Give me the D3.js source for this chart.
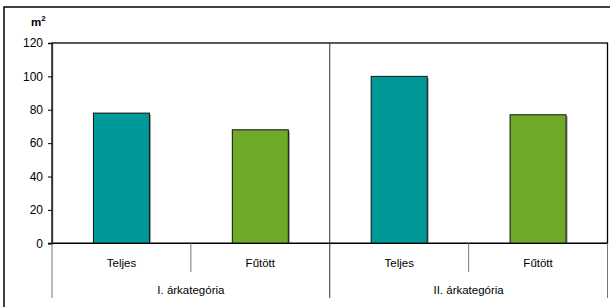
<!DOCTYPE html>
<html>
<head>
<meta charset="utf-8">
<script src="https://cdn.jsdelivr.net/npm/d3@7"></script>
<style>
  body { margin: 0; background: #fff; }
  svg { display: block; font-family: "Liberation Sans", Arial, sans-serif; }
</style>
</head>
<body>
<svg id="chart" width="610" height="307"></svg>
<script>
// values
const groups = ["I. árkategória", "II. árkategória"]
const categories = ["Teljes", "Fűtött"]
const values = [78, 68, 100, 77]
const yTicks = [0, 20, 40, 60, 80, 100, 120]
const colors = ["#009999", "#6fa928"]

const svg = d3.select("#chart")
const plotLeft = 52, plotRight = 607.5, plotTop = 43, plotBottom = 243.3

// outer frame
svg.append("rect").attr("x", 4).attr("y", 7).attr("width", 610).attr("height", 320)
    .attr("fill", "none").attr("stroke", "#000").attr("stroke-width", 1.5)

var cells = []
groups.forEach(function(g, gi) {
    categories.forEach(function(c, ci) {
        cells.push({group: g, cat: c, ci: ci, value: values[gi * 2 + ci], key: gi + "-" + ci})
    })
})

var x = d3.scaleBand().domain(cells.map(d => d.key)).range([plotLeft, plotRight]).paddingInner(0).paddingOuter(0)
var y = d3.scaleLinear().domain([0, 120]).range([plotBottom, plotTop])

// plot frame
svg.append("rect").attr("x", plotLeft).attr("y", plotTop).attr("width", plotRight - plotLeft).attr("height", plotBottom - plotTop)
    .attr("fill", "none").attr("stroke", "#000").attr("stroke-width", 1.3)

// group divider inside plot
svg.append("line").attr("x1", x("1-0")).attr("x2", x("1-0")).attr("y1", plotTop).attr("y2", plotBottom)
    .attr("stroke", "#333").attr("stroke-width", 1)

// bars, with a faint shadow like the original
var bw = 56
var bars = svg.append("g")
bars.selectAll(".shadow").data(cells).enter().append("rect")
    .attr("x", d => x(d.key) + x.bandwidth() / 2 - bw / 2 + 1.5)
    .attr("y", d => y(d.value) + 1.5)
    .attr("width", bw).attr("height", d => plotBottom - y(d.value) - 1.5)
    .attr("fill", "#999")
bars.selectAll(".bar").data(cells).enter().append("rect")
    .attr("x", d => x(d.key) + x.bandwidth() / 2 - bw / 2)
    .attr("y", d => y(d.value))
    .attr("width", bw).attr("height", d => plotBottom - y(d.value))
    .attr("fill", d => colors[d.ci])
    .attr("stroke", "#111").attr("stroke-width", 1)

// y axis
var yAxis = d3.axisLeft(y).tickValues(yTicks).tickSize(4).tickPadding(5)
var ya = svg.append("g").attr("transform", "translate(" + plotLeft + ",0)").call(yAxis)
ya.select(".domain").attr("stroke", "#333").attr("stroke-width", 1.3)
ya.selectAll("text").attr("font-size", 12).attr("fill", "#000").attr("font-family", "Liberation Sans, Arial, sans-serif")
ya.selectAll(".tick line").attr("stroke", "#000")

// baseline
svg.append("line").attr("x1", plotLeft - 4).attr("x2", plotRight).attr("y1", plotBottom).attr("y2", plotBottom)
    .attr("stroke", "#000").attr("stroke-width", 1.3)

// category axis below
var cat = svg.append("g")
cat.selectAll(".sep").data(cells.filter(d => d.ci == 1)).enter().append("line")
    .attr("x1", d => x(d.key)).attr("x2", d => x(d.key))
    .attr("y1", plotBottom).attr("y2", 272)
    .attr("stroke", "#777")
var groupEdges = [plotLeft, x("1-0"), plotRight]
cat.selectAll(".gsep").data(groupEdges).enter().append("line")
    .attr("x1", d => d).attr("x2", d => d)
    .attr("y1", plotBottom).attr("y2", 298)
    .attr("stroke", (d, i) => i == 1 ? "#333" : "#777")
cat.selectAll(".clab").data(cells).enter().append("text")
    .attr("x", d => x(d.key) + x.bandwidth() / 2)
    .attr("y", 267)
    .attr("text-anchor", "middle").attr("font-size", 11.5)
    .text(d => d.cat)
cat.selectAll(".glab").data(groups).enter().append("text")
    .attr("x", (d, i) => (groupEdges[i] + groupEdges[i + 1]) / 2)
    .attr("y", 294)
    .attr("text-anchor", "middle").attr("font-size", 11.5)
    .text(d => d)

// unit label
var unit = svg.append("text").attr("x", 31).attr("y", 26).attr("font-size", 11.5).attr("font-weight", "bold")
unit.append("tspan").text("m")
unit.append("tspan").attr("dy", -5).attr("font-size", 8).text("2")
</script>
</body>
</html>
